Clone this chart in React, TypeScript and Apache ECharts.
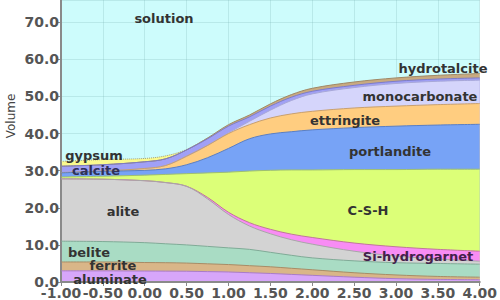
import React, { useEffect, useRef } from "react";
import * as echarts from "echarts";

// log time axis positions
const xs = [-1, -0.5, 0, 0.25, 0.5, 0.75, 1.0, 1.25, 1.5, 1.75, 2.0, 2.5, 3.0, 3.5, 4.0];

// phase volumes (thickness of each band), bottom to top
const aluminate = [3.0, 3.0, 2.95, 2.93, 2.9, 2.8, 2.7, 2.5, 2.3, 2.05, 1.8, 1.3, 0.9, 0.7, 0.6];
const ferrite = [2.4, 2.4, 2.3, 2.27, 2.2, 2.1, 2.0, 1.9, 1.8, 1.65, 1.5, 1.2, 1.0, 0.8, 0.7];
const belite = [5.6, 5.5, 5.35, 5.1, 4.9, 4.7, 4.5, 4.4, 3.9, 3.5, 3.2, 3.2, 3.3, 3.5, 3.5];
const alite = [16.8, 16.8, 16.7, 16.5, 15.8, 12.8, 9.0, 6.3, 5.0, 4.2, 3.7, 2.6, 1.8, 1.2, 0.8];
const siHydrogarnet = [0, 0, 0, 0, 0, 0.4, 0.6, 0.9, 1.2, 1.5, 1.8, 2.2, 2.5, 2.6, 2.7];
const csh = [0.5, 0.8, 1.5, 2.2, 3.4, 6.6, 10.8, 13.9, 15.9, 17.3, 18.2, 19.8, 20.8, 21.6, 22.1];
const portlandite = [1.1, 1.3, 1.3, 1.5, 2.4, 4.1, 6.4, 8.7, 9.8, 10.3, 10.8, 11.3, 11.7, 11.9, 12.1];
const ettringite = [0.1, 0.1, 0.5, 0.9, 2.3, 3.3, 4.0, 3.8, 4.3, 4.8, 5.0, 5.3, 5.4, 5.5, 5.6];
const monocarbonate = [0, 0, 0, 0, 0, 0, 0.2, 0.9, 2.1, 3.6, 4.7, 5.5, 6.1, 6.3, 6.3];
const calcite = [1.7, 1.7, 1.8, 1.8, 1.7, 1.8, 1.8, 1.2, 1.1, 0.9, 0.7, 0.6, 0.6, 0.6, 0.6];
const hydrotalcite = [0, 0, 0, 0, 0, 0.2, 0.4, 0.5, 0.6, 0.7, 0.8, 0.9, 0.9, 1.0, 1.2];
const gypsum: (number | null)[] = [1.3, 1.4, 0.9, 0.8, 0.1, 0, null, null, null, null, null, null, null, null, null];

const phases = [
  { name: "aluminate", data: aluminate, fill: "#d7a6fa", line: "#a97cc8" },
  { name: "ferrite", data: ferrite, fill: "#d9b688", line: "#a88c66" },
  { name: "belite", data: belite, fill: "#a9dcc4", line: "#80ab97" },
  { name: "alite", data: alite, fill: "#d3d3d3", line: "#a8a8a8" },
  { name: "Si-hydrogarnet", data: siHydrogarnet, fill: "#f88cf4", line: "#c0789a" },
  { name: "C-S-H", data: csh, fill: "#dcff78", line: "#9fbf70" },
  { name: "portlandite", data: portlandite, fill: "#77a3f6", line: "#5a7fc4" },
  { name: "ettringite", data: ettringite, fill: "#ffcd80", line: "#c8a070" },
  { name: "monocarbonate", data: monocarbonate, fill: "#d5d5fb", line: "#a8a8d8" },
  { name: "calcite", data: calcite, fill: "#a0a0f6", line: "#7c7cc8" },
  { name: "hydrotalcite", data: hydrotalcite, fill: "#c8aa80", line: "#a08866" },
  { name: "gypsum", data: gypsum, fill: "#fafa8e", line: "#a0a080" },
];

const labels = [
  { text: "solution", x: 164, y: 18, color: "#333" },
  { text: "hydrotalcite", x: 443, y: 68, color: "#333" },
  { text: "monocarbonate", x: 420, y: 96, color: "#333" },
  { text: "ettringite", x: 345, y: 120, color: "#333" },
  { text: "portlandite", x: 390, y: 151, color: "#333" },
  { text: "gypsum", x: 94, y: 155, color: "#333" },
  { text: "calcite", x: 96, y: 170, color: "#303058" },
  { text: "C-S-H", x: 368, y: 210, color: "#333" },
  { text: "alite", x: 123, y: 211, color: "#333" },
  { text: "Si-hydrogarnet", x: 418, y: 256, color: "#43204a" },
  { text: "belite", x: 89, y: 252, color: "#333" },
  { text: "ferrite", x: 113, y: 265, color: "#333" },
  { text: "aluminate", x: 110, y: 279, color: "#333" },
];

export default function App() {
  const ref = useRef<HTMLDivElement>(null);
  useEffect(() => {
    if (!ref.current) return;
    const chart = echarts.init(ref.current, undefined, { renderer: "svg" });
    // cumulative tops of each band; each area filled down to the axis, lower bands painted over higher ones
    const running = xs.map(() => 0);
    const built = phases.map((p) => {
      const pts = xs.map((x, i) => {
        const v = p.data[i];
        if (v === null || v === undefined) return [x, "-"];
        running[i] += v as number;
        return [x, +running[i].toFixed(3)];
      });
      return { p, pts };
    });
    const series = built
      .slice()
      .reverse()
      .map(({ p, pts }) => ({
        name: p.name,
        type: "line",
        smooth: 0.35,
        symbol: "none",
        data: pts,
        lineStyle: {
          color: p.line,
          width: 1,
          type: p.name === "gypsum" ? "dotted" : "solid",
        },
        areaStyle: { color: p.fill, opacity: 1, origin: "start" },
        itemStyle: { color: p.fill },
      }));
    chart.setOption({
      animation: false,
      grid: {
        left: 61,
        right: 17,
        top: 0,
        bottom: 17,
        show: true,
        backgroundColor: "#cdfcfc",
        borderWidth: 0,
      },
      xAxis: {
        type: "value",
        min: -1,
        max: 4,
        interval: 0.5,
        z: 3,
        axisLine: { show: true, onZero: false, lineStyle: { color: "#8a8a8a", width: 2 } },
        axisTick: { show: true, length: 4, lineStyle: { color: "#8a8a8a" } },
        axisLabel: {
          formatter: (v: number) => v.toFixed(2),
          color: "#555",
          fontFamily: "DejaVu Sans",
          fontWeight: "bold",
          fontSize: 14,
          margin: 4,
        },
        splitLine: { show: true, lineStyle: { color: "rgba(110,170,170,0.22)", width: 1 } },
      },
      yAxis: {
        type: "value",
        min: 0,
        max: 76,
        interval: 10,
        z: 3,
        axisLine: { show: true, onZero: false, lineStyle: { color: "#8a8a8a", width: 2 } },
        axisTick: { show: true, length: 4, lineStyle: { color: "#8a8a8a" } },
        axisLabel: {
          formatter: (v: number) => v.toFixed(1),
          color: "#555",
          fontFamily: "DejaVu Sans",
          fontWeight: "bold",
          fontSize: 14,
          margin: 2,
          showMaxLabel: false,
        },
        splitLine: { show: true, lineStyle: { color: "rgba(110,170,170,0.22)", width: 1 } },
      },
      series,
      graphic: [
        {
          type: "text",
          x: 11,
          y: 116,
          rotation: Math.PI / 2,
          style: {
            text: "Volume",
            fill: "#444",
            font: "12px 'DejaVu Sans'",
            textAlign: "center",
            textVerticalAlign: "middle",
          },
        },
        ...labels.map((l) => ({
          type: "text",
          x: l.x,
          y: l.y,
          z: 10,
          style: {
            text: l.text,
            fill: l.color,
            font: "bold 13px 'DejaVu Sans'",
            textAlign: "center",
            textVerticalAlign: "middle",
          },
        })),
      ],
    });
    return () => chart.dispose();
  }, []);
  return <div ref={ref} style={{ width: 500, height: 300, position: "absolute", left: 0, top: 0 }} />;
}
